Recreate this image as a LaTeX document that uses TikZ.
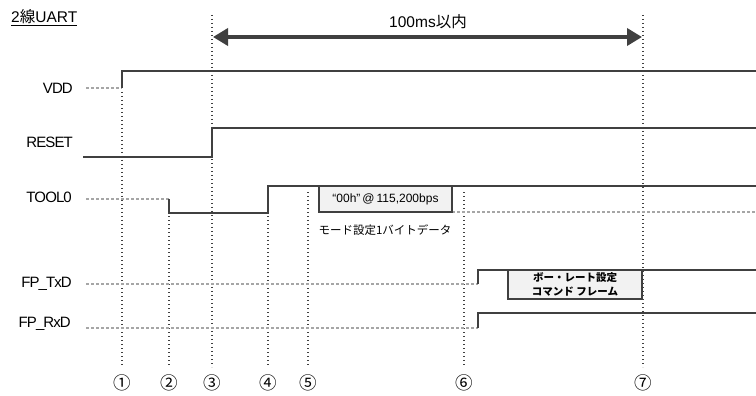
\documentclass[tikz,border=0pt]{standalone}
\usepackage{fontspec}
\setmainfont{Liberation Sans}
\newfontfamily\jp{Noto Sans CJK JP}
\usetikzlibrary{arrows.meta}
\definecolor{sig}{HTML}{404040}
\definecolor{idle}{HTML}{A6A6A6}
\definecolor{boxfill}{HTML}{F2F2F2}
\begin{document}
\begin{tikzpicture}[x=1pt,y=-1pt,
  sigline/.style={draw=sig,line width=1.6pt},
  idleline/.style={draw=idle,line width=1.3pt,dash pattern=on 3pt off 2pt},
  guide/.style={draw=sig,line width=1.2pt,dash pattern=on 1.1pt off 2.9pt},
  lbl/.style={anchor=east,inner sep=0pt,font=\fontsize{15}{17}\selectfont\addfontfeature{LetterSpace=-6}},
  num/.style={inner sep=0pt,font=\jp\fontsize{17.5}{20}\selectfont},
  framebox/.style={draw=sig,line width=1.6pt,fill=boxfill,inner sep=0pt,align=center}]
\useasboundingbox (0,0) rectangle (756,396);
\fill[white] (0,0) rectangle (756,396);
% title
\node[anchor=west,inner sep=0pt,font=\fontsize{15.5}{17}\selectfont] (title) at (11,18) {\underline{2{\jp 線}UART}};
% guide lines
\foreach \n/\x/\t in {1/122/92,2/169/200,3/212/15,4/268/188,5/308/192,6/464/192,7/643/15}{
  \coordinate (g\n top) at (\x,\t);
  \coordinate (g\n bot) at (\x,367);
  \draw[guide] (g\n top) -- (g\n bot);
}
\foreach \n/\x/\s in {1/122/①,2/169/②,3/212/③,4/268/④,5/308/⑤,6/464/⑥,7/643/⑦}{
  \node[num] (n\n) at (\x,382.5) {\s};
}
% 100ms arrow
\coordinate (arL) at (213,37);
\coordinate (arR) at (642,37);
\draw[draw=sig,line width=3.6pt,{Triangle[length=15pt,width=17pt]}-{Triangle[length=15pt,width=17pt]}] (arL) -- (arR);
\node[inner sep=0pt,font=\fontsize{15.5}{17}\selectfont] (tlim) at (428,22) {100ms{\jp 以内}};
% labels
\node[lbl] (vdd) at (73,88) {VDD};
\node[lbl] (rst) at (73,142) {RESET};
\node[lbl] (tool) at (72,197) {TOOL0};
\node[lbl] (txd) at (72,284) {FP\_TxD};
\node[lbl] (rxd) at (71,324) {FP\_RxD};
% VDD
\draw[idleline] (86,88) -- (122,88);
\draw[sigline] (122,88) -- (122,71) -- (756,71);
% RESET
\draw[sigline] (83,157) -- (212,157) -- (212,128) -- (756,128);
% TOOL0
\draw[idleline] (86,199) -- (169,199);
\draw[sigline] (169,199) -- (169,213) -- (268,213) -- (268,186) -- (756,186);
\draw[idleline] (452,212) -- (756,212);
\node[framebox,minimum width=133pt,minimum height=26pt,font=\fontsize{12}{14}\selectfont] (b1) at (385.5,199) {“00h”\,@\,115,200bps};
\node[inner sep=0pt,font=\jp\fontsize{11.5}{13}\selectfont] (b1t) at (385,230) {モード設定1バイトデータ};
% FP_TxD
\draw[idleline] (86,284) -- (478,284);
\draw[sigline] (478,284) -- (478,270) -- (756,270);
\node[framebox,minimum width=134pt,minimum height=29pt,font=\jp\fontsize{10.5}{14}\selectfont\bfseries] (b2) at (575,284.5) {ボー・レート設定\\コマンド\ フレーム};
% FP_RxD
\draw[idleline] (86,328) -- (478,328);
\draw[sigline] (478,328) -- (478,313) -- (756,313);
\end{tikzpicture}
\end{document}
